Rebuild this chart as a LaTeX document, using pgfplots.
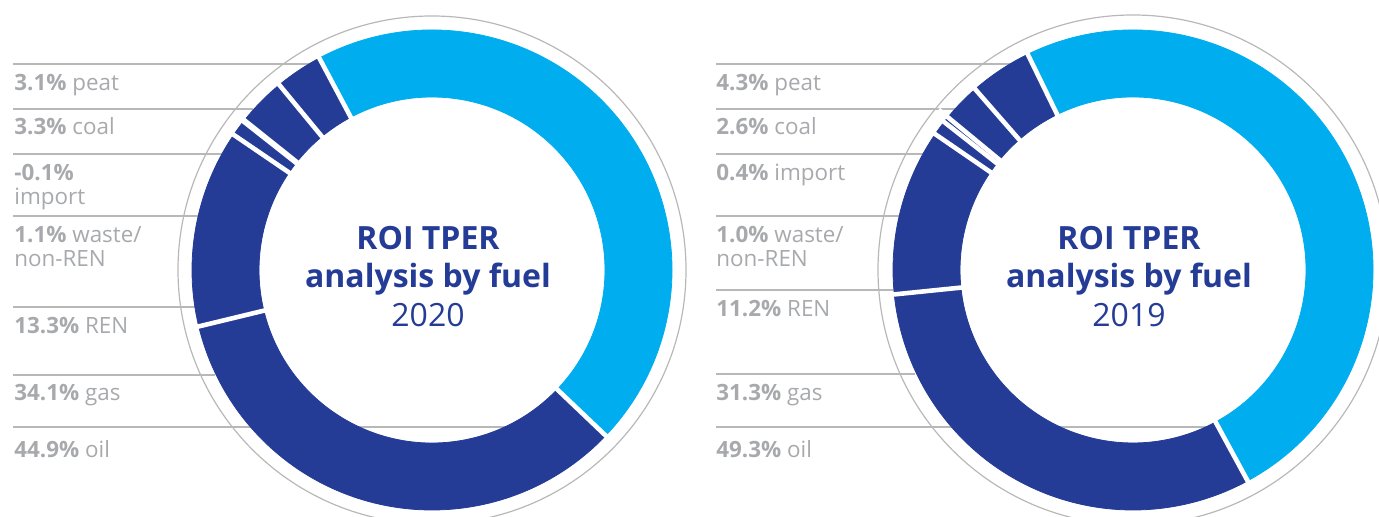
\documentclass[border=0pt]{standalone}
\usepackage{fontspec}
\setmainfont{Open Sans}
\usepackage{pgfplots}
\usepackage{pgfplotstable}
\pgfplotsset{compat=1.18}
\definecolor{navy}{HTML}{253C97}
\definecolor{sky}{HTML}{00AEEF}
\definecolor{lbl}{HTML}{A7A9AC}
\definecolor{rule}{HTML}{B8B8B8}

% shares in %, drawn clockwise from the start of oil
\pgfplotstableread{
fuel   share dark
oil    44.9  0
gas    34.1  1
REN    13.3  1
waste  1.1   1
import -0.1  1
coal   3.3   1
peat   3.1   1
}\fueltwenty
\pgfplotstableread{
fuel   share dark
oil    49.3  0
gas    31.3  1
REN    11.2  1
waste  1.0   1
import 0.4   1
coal   2.6   1
peat   4.3   1
}\fuelnineteen

% #1 start angle of first slice
\pgfplotsset{
  ring/.style={
    only marks, scatter, mark=*, mark size=0pt,
    visualization depends on={#1 \as \startang},
    visualization depends on={\thisrow{share} \as \share},
    visualization depends on={\thisrow{dark} \as \dark},
    execute at begin plot visualization={\gdef\runcum{0}},
    scatter/@post marker code/.code={},
  },
  slices/.style={
    ring={#1},
    scatter/@pre marker code/.code={
      \pgfmathsetmacro\angA{\startang-3.6*\runcum}
      \pgfmathsetmacro\newcum{\runcum+abs(\share)}
      \xdef\runcum{\newcum}
      \pgfmathsetmacro\angB{\startang-3.6*\runcum}
      \ifdim\dark pt>0.5pt \def\slicecol{navy}\else\def\slicecol{sky}\fi
      \fill[\slicecol] (\angA:120pt) arc[start angle=\angA, end angle=\angB, radius=120pt]
        -- (\angB:86.5pt) arc[start angle=\angB, end angle=\angA, radius=86.5pt] -- cycle;
    },
  },
  gaps/.style={
    ring={#1},
    scatter/@pre marker code/.code={
      \pgfmathsetmacro\angA{\startang-3.6*\runcum}
      \pgfmathsetmacro\newcum{\runcum+abs(\share)}
      \xdef\runcum{\newcum}
      \draw[white, line width=2.3pt] (\angA:80pt) -- (\angA:126pt);
    },
  },
}

\begin{document}
\begin{tikzpicture}
\useasboundingbox (0,0) rectangle (689.5pt,258.5pt);
\clip (0,0) rectangle (689.5pt,258.5pt);
\begin{axis}[
  at={(0,0)}, anchor=south west,
  scale only axis, width=689.5pt, height=258.5pt,
  xmin=0, xmax=1379, ymin=0, ymax=517, y dir=reverse,
  hide axis, clip=false,
]
% outer rings
\draw[rule, line width=0.6pt] (432,270) circle[radius=127pt];
\draw[rule, line width=0.6pt] (1133,270) circle[radius=127.5pt];

\addplot[slices=118] table[x expr=432, y expr=270] {\fueltwenty};
\addplot[gaps=118] table[x expr=432, y expr=270] {\fueltwenty};
\addplot[slices=116] table[x expr=1133, y expr=270] {\fuelnineteen};
\addplot[gaps=116] table[x expr=1133, y expr=270] {\fuelnineteen};

% leader lines 2020
\draw[rule, line width=0.6pt] (13,64) -- (310,64);
\draw[rule, line width=0.6pt] (13,109) -- (253,109);
\draw[rule, line width=0.6pt] (13,154) -- (250,154) -- (250,127);
\draw[rule, line width=0.6pt] (13,216) -- (262,216) -- (262,146);
\draw[rule, line width=0.6pt] (13,307) -- (195,307);
\draw[rule, line width=0.6pt] (13,375) -- (215,375);
\draw[rule, line width=0.6pt] (13,427) -- (607,427);
% leader lines 2019
\draw[rule, line width=0.6pt] (716,64) -- (1010,64);
\draw[rule, line width=0.6pt] (716,109) -- (957,109);
\draw[rule, line width=0.6pt] (716,154) -- (952,154) -- (952,127);
\draw[rule, line width=0.6pt] (716,216) -- (963,216) -- (963,146);
\draw[rule, line width=0.6pt] (716,290) -- (893,290);
\draw[rule, line width=0.6pt] (716,374) -- (915,374);
\draw[rule, line width=0.6pt] (716,427) -- (1220,427);

% labels 2020
\begin{scope}[every node/.style={lbl, anchor=base west, inner sep=0pt, font=\fontsize{11.2}{13}\selectfont}]
\node at (14,90.5) {\textbf{3.1\%} peat};
\node at (14,135) {\textbf{3.3\%} coal};
\node at (14,180.7) {\textbf{-0.1\%}};
\node at (14,205) {import};
\node at (14,242.7) {\textbf{1.1\%} waste/};
\node at (14,266.7) {non-REN};
\node at (14,333.3) {\textbf{13.3\%} REN};
\node at (14,400.7) {\textbf{34.1\%} gas};
\node at (14,457.3) {\textbf{44.9\%} oil};
% labels 2019
\node at (716,90.5) {\textbf{4.3\%} peat};
\node at (716,135) {\textbf{2.6\%} coal};
\node at (716,180.7) {\textbf{0.4\%} import};
\node at (716,242.7) {\textbf{1.0\%} waste/};
\node at (716,266.7) {non-REN};
\node at (716,317) {\textbf{11.2\%} REN};
\node at (716,400.7) {\textbf{31.3\%} gas};
\node at (716,457.3) {\textbf{49.3\%} oil};
\end{scope}

% centre titles
\begin{scope}[every node/.style={navy, anchor=base, inner sep=0pt, font=\fontsize{16}{19}\selectfont}]
\node at (428,250) {\textbf{ROI TPER}};
\node at (428,288) {\textbf{analysis by fuel}};
\node at (428,327) {2020};
\node at (1129,250) {\textbf{ROI TPER}};
\node at (1129,288) {\textbf{analysis by fuel}};
\node at (1129,327) {2019};
\end{scope}
\end{axis}
\end{tikzpicture}
\end{document}
